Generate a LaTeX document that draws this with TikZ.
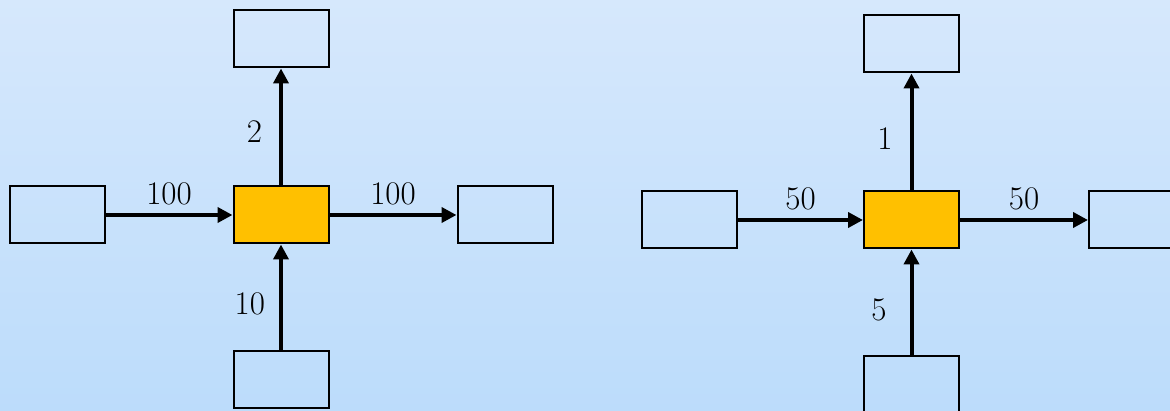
\documentclass[tikz,border=0pt]{standalone}
\usetikzlibrary{arrows.meta,positioning}

\definecolor{hubfill}{HTML}{FFC000}
\definecolor{skytop}{HTML}{D6E8FC}
\definecolor{skybottom}{HTML}{BCDCFB}

\begin{document}
\begin{tikzpicture}[x=1pt, y=-1pt,
  font=\fontsize{33}{40}\selectfont,
  box/.style={draw=black, line width=2pt, minimum width=95pt, minimum height=57pt, inner sep=0pt},
  hub/.style={box, fill=hubfill},
  flow/.style={-{Triangle[length=15pt,width=15pt]}, line width=4pt},
  qty/.style={inner sep=8pt}
]
  % sky background, also fixes the page size
  \fill[top color=skytop, bottom color=skybottom] (0,0) rectangle (1170,411);
  \useasboundingbox (0,0) rectangle (1170,411);
  \clip (0,0) rectangle (1170,411);

  % first junction
  \node[hub] (hubA) at (281,215) {};
  \node[box, left=127pt of hubA] (srcA) {};
  \node[box, right=127pt of hubA] (sinkA) {};
  \node[box, above=117pt of hubA] (topA) {};
  \node[box, below=106pt of hubA] (botA) {};
  \draw[flow] (srcA) -- node[qty, above] {100} (hubA);
  \draw[flow] (hubA) -- node[qty, above] {100} (sinkA);
  \draw[flow] (hubA) -- node[qty, left=9pt, yshift=-5pt] {2} (topA);
  \draw[flow] (botA) -- node[qty, left=6pt, yshift=-6pt] {10} (hubA);

  % second junction
  \node[hub] (hubB) at (911.5,220) {};
  \node[box, left=125pt of hubB] (srcB) {};
  \node[box, right=128pt of hubB] (sinkB) {};
  \node[box, above=117pt of hubB] (topB) {};
  \node[box, below=106pt of hubB] (botB) {};
  \draw[flow] (srcB) -- node[qty, above] {50} (hubB);
  \draw[flow] (hubB) -- node[qty, above] {50} (sinkB);
  \draw[flow] (hubB) -- node[qty, left=9pt, yshift=-7pt] {1} (topB);
  \draw[flow] (botB) -- node[qty, left=15pt, yshift=-7pt] {5} (hubB);
\end{tikzpicture}
\end{document}
